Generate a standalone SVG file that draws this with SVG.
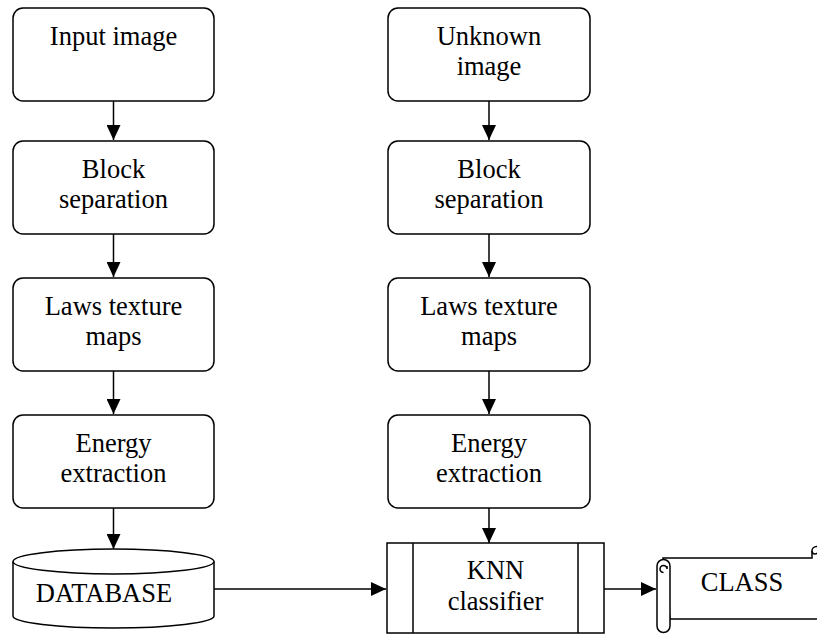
<svg xmlns="http://www.w3.org/2000/svg" width="817" height="635" viewBox="0 0 817 635">
<style>
.box{fill:#fff;stroke:#000;stroke-width:1.5}
.ln{fill:none;stroke:#000;stroke-width:1.5}
text{font-family:"Liberation Serif","Times New Roman",serif;font-size:26.5px;fill:#000;text-anchor:middle}
</style>
<defs>
<marker id="ah" markerUnits="userSpaceOnUse" markerWidth="15" markerHeight="14" refX="15" refY="7" orient="auto" viewBox="0 0 15 14">
<path d="M0,0 L15,7 L0,14 z" fill="#000"/>
</marker>
</defs>
<rect width="817" height="635" fill="#fff"/>
<g id="connectors">
<line class="ln" x1="113.5" y1="101" x2="113.5" y2="140" marker-end="url(#ah)"/>
<line class="ln" x1="113.5" y1="234" x2="113.5" y2="277" marker-end="url(#ah)"/>
<line class="ln" x1="113.5" y1="371" x2="113.5" y2="414" marker-end="url(#ah)"/>
<line class="ln" x1="113.5" y1="508" x2="113.5" y2="549" marker-end="url(#ah)"/>
<line class="ln" x1="489" y1="101" x2="489" y2="140" marker-end="url(#ah)"/>
<line class="ln" x1="489" y1="234" x2="489" y2="277" marker-end="url(#ah)"/>
<line class="ln" x1="489" y1="371" x2="489" y2="414" marker-end="url(#ah)"/>
<line class="ln" x1="489" y1="508" x2="489" y2="543" marker-end="url(#ah)"/>
<line class="ln" x1="214" y1="589" x2="386" y2="589" marker-end="url(#ah)"/>
<line class="ln" x1="604" y1="589" x2="656" y2="589" marker-end="url(#ah)"/>
</g>
<g id="input-image">
<rect class="box" x="13" y="8" width="201" height="93" rx="10"/>
<text x="113.5" y="45">Input image</text>
</g>
<g id="block-sep-left">
<rect class="box" x="13" y="141" width="201" height="93" rx="10"/>
<text x="113.5" y="178">Block</text>
<text x="113.5" y="208">separation</text>
</g>
<g id="laws-left">
<rect class="box" x="13" y="278" width="201" height="93" rx="10"/>
<text x="113.5" y="315">Laws texture</text>
<text x="113.5" y="345">maps</text>
</g>
<g id="energy-left">
<rect class="box" x="13" y="415" width="201" height="93" rx="10"/>
<text x="113.5" y="452">Energy</text>
<text x="113.5" y="482">extraction</text>
</g>
<g id="unknown-image">
<rect class="box" x="388" y="8" width="202" height="93" rx="10"/>
<text x="489" y="45">Unknown</text>
<text x="489" y="75">image</text>
</g>
<g id="block-sep-right">
<rect class="box" x="388" y="141" width="202" height="93" rx="10"/>
<text x="489" y="178">Block</text>
<text x="489" y="208">separation</text>
</g>
<g id="laws-right">
<rect class="box" x="388" y="278" width="202" height="93" rx="10"/>
<text x="489" y="315">Laws texture</text>
<text x="489" y="345">maps</text>
</g>
<g id="energy-right">
<rect class="box" x="388" y="415" width="202" height="93" rx="10"/>
<text x="489" y="452">Energy</text>
<text x="489" y="482">extraction</text>
</g>
<g id="database">
<path class="box" d="M13,561.5 L13,616 A100.5,12 0 0 0 214,616 L214,561.5"/>
<ellipse class="box" cx="113.5" cy="561.5" rx="100.5" ry="12.5"/>
<text x="104" y="602">DATABASE</text>
</g>
<g id="knn">
<rect class="box" x="387" y="543" width="217" height="90"/>
<line class="ln" x1="413" y1="543" x2="413" y2="633"/>
<line class="ln" x1="578" y1="543" x2="578" y2="633"/>
<text x="495.5" y="579">KNN</text>
<text x="495.5" y="610">classifier</text>
</g>
<g id="class">
<path class="box" d="M663,558 L812,558 L812,551 A4.5,4.5 0 0 1 821,551 L821,619 L670,619 Z"/>
<path class="ln" d="M812,551 A3,3 0 0 0 818,551"/>
<path class="box" d="M657,566 A6.5,6.5 0 0 1 670,566 L670,626 A6.5,6.5 0 0 1 657,626 Z"/>
<path class="ln" d="M663.5,572.5 A3.5,3.5 0 1 1 667,569 L667,566"/>
<text x="742" y="591">CLASS</text>
</g>
</svg>
